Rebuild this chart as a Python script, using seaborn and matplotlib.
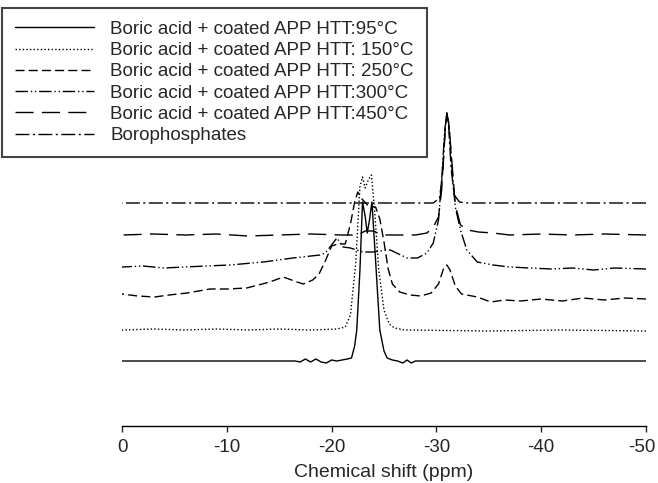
import matplotlib
matplotlib.use("Agg")
import matplotlib.pyplot as plt
import matplotlib.transforms as mtransforms
import pandas as pd
import seaborn as sns

# 31P NMR spectra (ppm, height above own baseline)
labels = [
    "Boric acid + coated APP HTT:95°C",
    "Boric acid + coated APP HTT: 150°C",
    "Boric acid + coated APP HTT: 250°C",
    "Boric acid + coated APP HTT:300°C",
    "Boric acid + coated APP HTT:450°C",
    "Borophosphates",
]
offsets = [64, 95, 131, 158, 190, 222]

ppm_95 = [0, -16.5, -17, -17.5, -18, -18.5, -19, -19.5, -20, -20.5, -21, -21.5, -21.9, -22.2,
          -22.4, -22.7, -22.95, -23.2, -23.4, -23.6, -23.85, -24.2, -24.6, -25.0, -25.3, -25.8,
          -26.3, -26.8, -27.2, -27.6, -28, -28.5, -50]
int_95 = [0, 0, -1, 2, -1, 2, -1, -2, 1, 0, 1, 2, 3, 15,
          31, 90, 159, 145, 128, 140, 159, 100, 31, 10, 3, 1,
          0, -2, 1, -2, 0, 0, 0]

ppm_150 = [0, -3, -6, -9, -12, -15, -18, -20.5, -21.3, -21.8, -22.3, -22.7, -22.95, -23.2,
           -23.5, -23.8, -24.1, -24.5, -25.0, -25.5, -26, -27, -35, -42, -50]
int_150 = [0, 1, 0, 1, 0, 1, 0, 1, 3, 15, 67, 143, 153, 142,
           150, 155, 120, 60, 20, 6, 2, 0, -1, 0, -1]

ppm_250 = [0, -1.5, -3.1, -4.5, -6.2, -8.4, -10, -11.9, -14.1, -15.4, -16.7, -17.3, -18.2,
           -18.8, -19.4, -20.0, -20.6, -21.3, -21.8, -22.2, -22.5, -22.9, -23.5, -24.2, -24.6,
           -25.0, -25.4, -25.8, -26.5, -27.5, -28.5, -29.5, -30.2, -30.7, -31.0, -31.3, -31.8,
           -32.4, -33.9, -35.2, -36.5, -38, -40, -42, -44, -46, -48, -50]
int_250 = [0, -2, -3, -1, 1, 5, 5, 6, 12, 17, 12, 10, 14,
           20, 33, 48, 50, 50, 70, 92, 102, 95, 88, 87, 75,
           52, 25, 10, 2, -1, -2, 1, 10, 26, 29, 24, 8,
           0, -3, -8, -6, -7, -5, -7, -4, -6, -4, -5]

ppm_300 = [0, -2, -4, -6, -8, -10.3, -13.5, -16.3, -18.9, -19.4, -20.0, -20.5, -21.1, -21.8,
           -23.0, -23.95, -25.3, -25.6, -27.2, -28.2, -29.1, -29.7, -30.2, -30.5, -30.8, -31.0,
           -31.2, -31.5, -31.8, -32.3, -32.9, -33.9, -35.4, -37, -38.9, -41, -43, -45, -47, -50]
int_300 = [0, 1, -1, 0, 1, 2, 5, 9, 12, 14, 22, 29, 20, 19,
           15, 15, 17, 17, 9, 9, 14, 24, 47, 87, 137, 154,
           142, 97, 60, 37, 17, 5, 2, 0, -1, -2, -1, -3, -1, -2]

ppm_450 = [0, -3, -6, -9, -12, -15, -18, -21, -22.5, -23.2, -24.0, -24.8, -26, -28, -29.1,
           -29.7, -30.2, -30.5, -30.8, -31.0, -31.2, -31.5, -31.8, -32.3, -33, -34, -35.4,
           -37, -40, -43, -46, -50]
int_450 = [0, 1, 0, 1, -1, 0, 1, 0, 0, 4, 4, 0, 0, 0, 2,
           8, 18, 45, 100, 122, 110, 70, 30, 10, 5, 3, 2,
           0, 1, 0, 1, 0]

ppm_boro = [0, -10, -20, -29.7, -30.3, -30.6, -30.85, -31.0, -31.15, -31.4, -31.7, -32.2, -33, -50]
int_boro = [0, 0, 0, 0, 5, 30, 75, 90, 80, 35, 8, 1, 0, 0]

ppm_all = [ppm_95, ppm_150, ppm_250, ppm_300, ppm_450, ppm_boro]
int_all = [int_95, int_150, int_250, int_300, int_450, int_boro]

line_styles = [
    "-",
    (0, (1, 1.6)),
    (0, (6.5, 3)),
    (0, (9, 2, 1, 2, 1, 2)),
    (0, (13, 6)),
    (0, (10, 2.5, 1.5, 2.5)),
]

sns.set_style("white")
plt.rcParams["font.family"] = ["Liberation Sans", "DejaVu Sans"]
plt.rcParams["axes.unicode_minus"] = False

fig = plt.figure(figsize=(6.58, 4.83), dpi=100)
ax = fig.add_axes([122 / 658, 57 / 483, 524 / 658, 320 / 483])

for name, off, ppm, inten, ls in zip(labels, offsets, ppm_all, int_all, line_styles):
    df = pd.DataFrame({"ppm": ppm, "y": [v + off for v in inten]})
    sns.lineplot(data=df, x="ppm", y="y", ax=ax, color="black", linewidth=1.0,
                 linestyle=ls, label=name, legend=False)

ax.set_xlim(0, -50)
ax.set_ylim(-1, 319)
ax.set_xticks([0, -10, -20, -30, -40, -50])
ax.set_yticks([])
ax.set_ylabel("")
ax.set_xlabel("Chemical shift (ppm)", fontsize=14, labelpad=6)
for s in ["left", "right", "top"]:
    ax.spines[s].set_visible(False)
ax.spines["bottom"].set_color("black")
ax.spines["bottom"].set_linewidth(1.0)
ax.tick_params(axis="x", direction="out", length=4, width=1.0, labelsize=13.5, bottom=True, pad=5)

# keep the last tick label inside the picture
last = ax.get_xticklabels()[-1]
last.set_transform(last.get_transform() + mtransforms.ScaledTranslation(-3 / 72, 0, fig.dpi_scale_trans))

handles, labs = ax.get_legend_handles_labels()
leg = fig.legend(handles, labs, loc="upper left", bbox_to_anchor=(2 / 658, 1 - 8 / 483),
                 fontsize=13.5, frameon=True, fancybox=False, framealpha=1,
                 edgecolor="#444444", handlelength=4.2, handletextpad=0.9,
                 labelspacing=0.22, borderpad=0.68, borderaxespad=0)
leg.get_frame().set_linewidth(1.5)

fig.savefig("out.png", dpi=100)
